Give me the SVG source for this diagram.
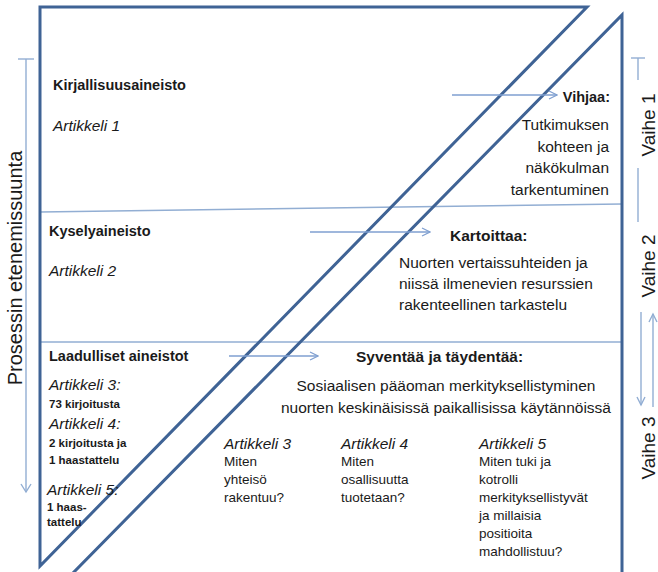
<svg xmlns="http://www.w3.org/2000/svg" width="658" height="572" viewBox="0 0 658 572">
<defs>
<style>
text{font-family:"Liberation Sans",Arial,sans-serif;fill:#1a1a1a}
.h{font-weight:bold;font-size:14.5px}
.h2{font-weight:bold;font-size:15.5px}
.it{font-style:italic;font-size:15.5px}
.b{font-size:15.5px}
.sb{font-weight:bold;font-size:11.5px}
.s{font-size:13.5px}
.rot{font-size:19px}
.frame{fill:none;stroke:#3f6395;stroke-width:3;stroke-linejoin:miter}
.div{stroke:#92aed3;stroke-width:1.6;fill:none}
.arr{stroke:#7f9fd0;stroke-width:1.3;fill:none}
.ax{stroke:#92aed3;stroke-width:1.4;fill:none}
</style>
<marker id="ah" viewBox="0 0 10 10" refX="9" refY="5" markerWidth="10" markerHeight="10" markerUnits="userSpaceOnUse" orient="auto">
<path d="M1,1 L9,5 L1,9" fill="none" stroke="#7f9fd0" stroke-width="1.2"/>
</marker>
</defs>
<rect width="658" height="572" fill="#ffffff"/>

<g id="dividers">
<line class="div" x1="40" y1="212" x2="622" y2="204"/>
<line class="div" x1="40" y1="342" x2="622" y2="342"/>
</g>

<g id="frame">
<polygon class="frame" points="40,7 587,7 40,566"/>
<polyline class="frame" points="72,574 622,15 622,574"/>
</g>

<g id="connectors">
<line class="arr" x1="452" y1="95" x2="557" y2="95" marker-end="url(#ah)"/>
<line class="arr" x1="310" y1="232" x2="430" y2="232" marker-end="url(#ah)"/>
<line class="arr" x1="229" y1="356" x2="318" y2="356" marker-end="url(#ah)"/>
</g>

<g id="axis-left">
<line class="ax" x1="18" y1="59" x2="34" y2="59"/>
<line class="ax" x1="26" y1="59" x2="26" y2="492"/>
<path class="ax" d="M21,484 L26,492 L31,484"/>
<text class="rot" font-size="20" transform="translate(22,268) rotate(-90)" text-anchor="middle" style="font-size:20px">Prosessin etenemissuunta</text>
</g>

<g id="axis-right">
<line class="ax" x1="631" y1="58" x2="645" y2="58"/>
<line class="ax" x1="638" y1="58" x2="638" y2="80"/>
<text class="rot" transform="translate(655,125) rotate(-90)" text-anchor="middle">Vaihe 1</text>
<line class="ax" x1="638" y1="168" x2="638" y2="222"/>
<text class="rot" transform="translate(655,266) rotate(-90)" text-anchor="middle">Vaihe 2</text>
<line class="ax" x1="641" y1="312" x2="641" y2="405"/>
<path class="ax" d="M637,397 L641,405 L645,397"/>
<line class="ax" x1="653" y1="407" x2="653" y2="314"/>
<path class="ax" d="M649,322 L653,314 L657,322"/>
<text class="rot" transform="translate(655,448) rotate(-90)" text-anchor="middle">Vaihe 3</text>
</g>

<g id="row1-left">
<text class="h" x="53" y="90">Kirjallisuusaineisto</text>
<text class="it" x="53" y="131">Artikkeli 1</text>
</g>
<g id="row1-right">
<text class="h" x="610" y="102" text-anchor="end">Vihjaa:</text>
<text class="b" x="609" text-anchor="end"><tspan x="609" y="130">Tutkimuksen</tspan><tspan x="609" y="152">kohteen ja</tspan><tspan x="609" y="173">näkökulman</tspan><tspan x="609" y="195">tarkentuminen</tspan></text>
</g>

<g id="row2-left">
<text class="h" x="49" y="236">Kyselyaineisto</text>
<text class="it" x="49" y="276">Artikkeli 2</text>
</g>
<g id="row2-right">
<text class="h2" x="450" y="241">Kartoittaa:</text>
<text class="b"><tspan x="399" y="268">Nuorten vertaissuhteiden ja</tspan><tspan x="399" y="289">niissä ilmenevien resurssien</tspan><tspan x="399" y="310">rakenteellinen tarkastelu</tspan></text>
</g>

<g id="row3-left">
<text class="h" x="49" y="361">Laadulliset aineistot</text>
<text class="it" x="49" y="390">Artikkeli 3:</text>
<text class="sb" x="49" y="408">73 kirjoitusta</text>
<text class="it" x="49" y="429">Artikkeli 4:</text>
<text class="sb"><tspan x="49" y="447">2 kirjoitusta ja</tspan><tspan x="49" y="464">1 haastattelu</tspan></text>
<text class="it" x="47" y="495">Artikkeli 5:</text>
<text class="sb"><tspan x="47" y="511">1 haas-</tspan><tspan x="47" y="526">tattelu</tspan></text>
</g>

<g id="row3-right">
<text class="h2" x="356" y="362">Syventää ja täydentää:</text>
<text class="b" text-anchor="middle"><tspan x="446" y="391">Sosiaalisen pääoman merkityksellistyminen</tspan><tspan x="446" y="413">nuorten keskinäisissä paikallisissa käytännöissä</tspan></text>
</g>

<g id="art3">
<text class="it" x="224" y="449">Artikkeli 3</text>
<text class="s"><tspan x="224" y="466">Miten</tspan><tspan x="224" y="484">yhteisö</tspan><tspan x="224" y="502">rakentuu?</tspan></text>
</g>
<g id="art4">
<text class="it" x="341" y="449">Artikkeli 4</text>
<text class="s"><tspan x="341" y="466">Miten</tspan><tspan x="341" y="484">osallisuutta</tspan><tspan x="341" y="502">tuotetaan?</tspan></text>
</g>
<g id="art5">
<text class="it" x="479" y="449">Artikkeli 5</text>
<text class="s"><tspan x="479" y="466">Miten tuki ja</tspan><tspan x="479" y="484">kotrolli</tspan><tspan x="479" y="502">merkityksellistyvät</tspan><tspan x="479" y="520">ja millaisia</tspan><tspan x="479" y="538">positioita</tspan><tspan x="479" y="556">mahdollistuu?</tspan></text>
</g>
</svg>
